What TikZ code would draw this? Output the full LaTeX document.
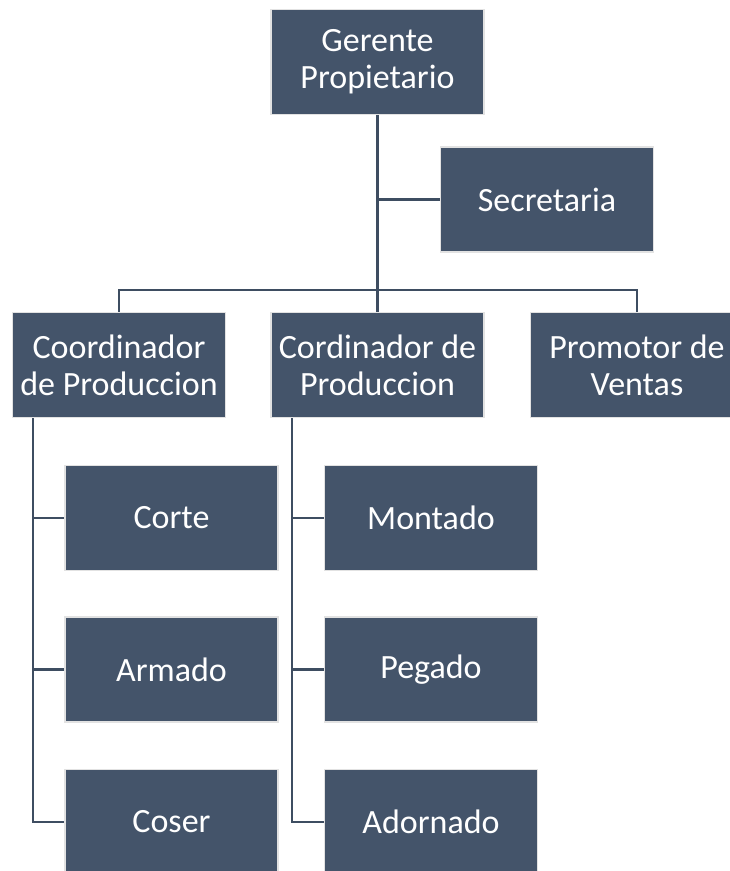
\documentclass[tikz,border=0pt]{standalone}
\usepackage{fontspec}
\setmainfont{Carlito}
\definecolor{boxfill}{HTML}{44546A}
\definecolor{boxedge}{HTML}{E2E2E2}
\definecolor{linec}{HTML}{3E4D61}
\begin{document}
\begin{tikzpicture}[x=1pt,y=-1pt,
  orgbox/.style={draw=boxedge, line width=1.5pt, fill=boxfill, text=white,
    minimum width=213pt, minimum height=105pt, inner sep=0pt, align=center,
    font=\fontsize{34}{37}\selectfont},
  conn/.style={draw=linec, line width=2.5pt}]
\useasboundingbox (0,0) rectangle (730,871);
\node[orgbox] (g) at (377.5,62) {Gerente\\Propietario};
\node[orgbox] (s) at (547,199.5) {Secretaria};
\node[orgbox] (c1) at (119,365) {Coordinador\\de Produccion};
\node[orgbox] (c2) at (377.5,365) {Cordinador de\\Produccion};
\node[orgbox] (c3) at (637,365) {Promotor de\\Ventas};
\node[orgbox] (k1) at (171.5,518) {Corte};
\node[orgbox] (k2) at (171.5,669.5) {Armado};
\node[orgbox] (k3) at (171.5,822) {Coser};
\node[orgbox] (m1) at (431,518) {Montado};
\node[orgbox] (m2) at (431,669.5) {Pegado};
\node[orgbox] (m3) at (431,822) {Adornado};
\coordinate (bus) at (377.5,290);
\coordinate (lx) at (33,418);
\coordinate (mx) at (292,418);
\draw[conn] (g.south) -- (bus);
\draw[conn] (bus) -- (c2.north);
\draw[conn] (c1.north) |- (bus) -| (c3.north);
\draw[conn] (s.west) -- (s.west -| g.south);
\draw[conn] (lx) |- (k3.west);
\draw[conn] (lx |- k1.west) -- (k1.west);
\draw[conn] (lx |- k2.west) -- (k2.west);
\draw[conn] (mx) |- (m3.west);
\draw[conn] (mx |- m1.west) -- (m1.west);
\draw[conn] (mx |- m2.west) -- (m2.west);
\end{tikzpicture}
\end{document}
